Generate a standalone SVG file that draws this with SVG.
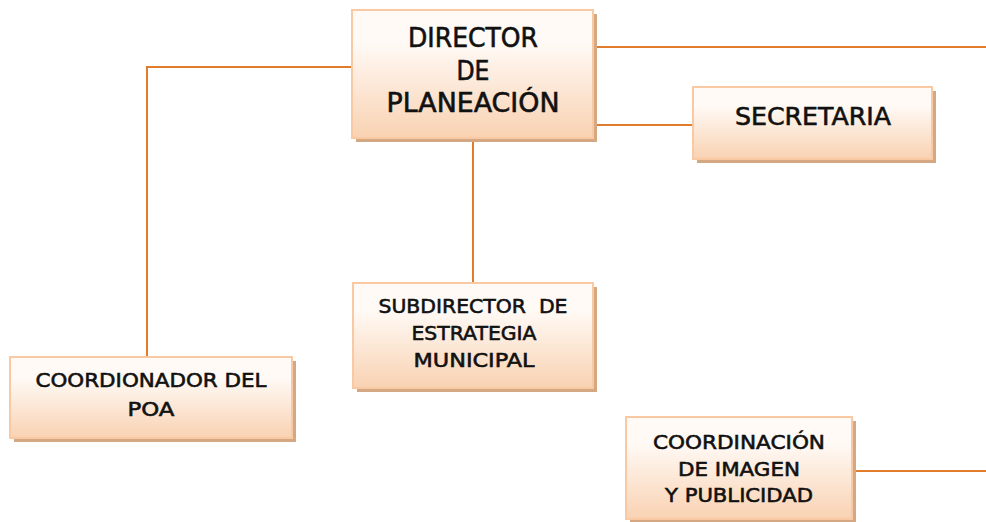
<svg xmlns="http://www.w3.org/2000/svg" width="986" height="522" viewBox="0 0 986 522">
<defs>
<linearGradient id="g" x1="0" y1="0" x2="0" y2="1">
<stop offset="0" stop-color="#fffaf6"/>
<stop offset="0.25" stop-color="#fffaf6"/>
<stop offset="1" stop-color="#f9d2b2"/>
</linearGradient>
<style>
.box{fill:url(#g);stroke:#f8c9a2;stroke-width:2}
.sh{fill:#d3a883}
.t{font-family:"DejaVu Sans","Liberation Sans",sans-serif;font-weight:normal;fill:#111;stroke:#111;stroke-width:0.6;text-anchor:middle}
.c{stroke:#e07c2c;stroke-width:2;fill:none}
</style>
</defs>
<rect width="986" height="522" fill="#fff"/>
<g id="connectors">
<polyline class="c" points="352,67 147,67 147,357"/>
<line class="c" x1="593" y1="47" x2="986" y2="47"/>
<line class="c" x1="593" y1="125" x2="693" y2="125"/>
<line class="c" x1="473" y1="138" x2="473" y2="283"/>
<line class="c" x1="852" y1="471" x2="986" y2="471"/>
</g>
<g id="director">
<rect class="sh" x="356" y="14" width="241" height="128"/>
<rect class="box" x="352" y="10" width="241" height="128"/>
<text class="t" font-size="26" x="473" y="47" textLength="130" lengthAdjust="spacingAndGlyphs">DIRECTOR</text>
<text class="t" font-size="26" x="473" y="80" textLength="33" lengthAdjust="spacingAndGlyphs">DE</text>
<text class="t" font-size="26" x="473" y="112" textLength="173" lengthAdjust="spacingAndGlyphs">PLANEACIÓN</text>
</g>
<g id="secretaria">
<rect class="sh" x="697" y="91" width="239" height="72"/>
<rect class="box" x="693" y="87" width="239" height="72"/>
<text class="t" font-size="24" x="813" y="125" textLength="156" lengthAdjust="spacingAndGlyphs">SECRETARIA</text>
</g>
<g id="coordinador">
<rect class="sh" x="14" y="361" width="282" height="81"/>
<rect class="box" x="10" y="357" width="282" height="81"/>
<text class="t" font-size="20" x="151" y="387" textLength="231" lengthAdjust="spacingAndGlyphs">COORDIONADOR DEL</text>
<text class="t" font-size="20" x="151" y="416" textLength="47" lengthAdjust="spacingAndGlyphs">POA</text>
</g>
<g id="subdirector">
<rect class="sh" x="357" y="287" width="240" height="105"/>
<rect class="box" x="353" y="283" width="240" height="105"/>
<text class="t" font-size="20" x="473" y="313" xml:space="preserve" textLength="189" lengthAdjust="spacingAndGlyphs">SUBDIRECTOR  DE</text>
<text class="t" font-size="20" x="474" y="340" textLength="125" lengthAdjust="spacingAndGlyphs">ESTRATEGIA</text>
<text class="t" font-size="20" x="474" y="367" textLength="121" lengthAdjust="spacingAndGlyphs">MUNICIPAL</text>
</g>
<g id="imagen">
<rect class="sh" x="630" y="421" width="226" height="102"/>
<rect class="box" x="626" y="417" width="226" height="102"/>
<text class="t" font-size="20" x="739" y="449" textLength="172" lengthAdjust="spacingAndGlyphs">COORDINACIÓN</text>
<text class="t" font-size="20" x="739" y="476" textLength="122" lengthAdjust="spacingAndGlyphs">DE IMAGEN</text>
<text class="t" font-size="20" x="739" y="502" textLength="148" lengthAdjust="spacingAndGlyphs">Y PUBLICIDAD</text>
</g>
</svg>
